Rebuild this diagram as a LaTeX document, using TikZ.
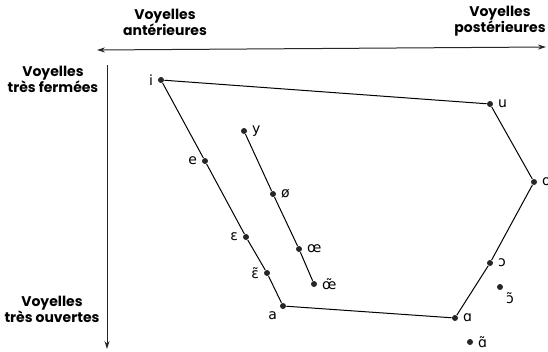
\documentclass[tikz,border=0pt]{standalone}
\usepackage{fontspec}
\setmainfont{DejaVu Sans}
\newfontfamily\headfont{Poppins}
\usetikzlibrary{arrows.meta, positioning}
\tikzset{
  every picture/.style={line width=1pt, x=1pt, y=-1pt},
  vowel/.style={circle, fill=black!85, inner sep=0pt, minimum size=6pt},
  ipa/.style={font=\fontsize{14}{14}\selectfont, inner sep=1pt, label distance=3pt},
  axis/.style={line width=1pt, draw=black!85},
  heading/.style={font=\headfont\bfseries\fontsize{14}{16}\selectfont, align=center},
}

\begin{document}
\begin{tikzpicture}
  \useasboundingbox (0,0) rectangle (548,351);
  % axes
  \coordinate (front) at (97,50);
  \coordinate (back) at (546,47);
  \coordinate (closed) at (107,65);
  \coordinate (open) at (107,349);
  \draw[axis, {Stealth[length=8pt, width=5pt]}-{Stealth[length=8pt, width=5pt]}] (front) -- (back);
  \draw[axis, -{Stealth[length=8pt, width=5pt]}] (closed) -- (open);
  \node[heading] (hfront) at (165,22) {Voyelles\\antérieures};
  \node[heading] (hback) at (500,21) {Voyelles\\postérieures};
  \node[heading] (hclosed) at (53,79) {Voyelles\\très fermées};
  \node[heading] (hopen) at (52,309) {Voyelles\\très ouvertes};
  % vowels
  \foreach \n/\x/\y/\p/\t in {i/161/80/left/i, u/490/104/right/u, o/534/182/right/o,
      oo/490/263/right/ɔ, ooN/500/287/below right/ɔ̃, A/455/318/right/ɑ, AN/470/342/right/ɑ̃,
      a/283/306/below left/a, eeN/267/273/left/ɛ̃, ee/246/237/left/ɛ, e/205/161/left/e,
      y/244/131/right/y, ph/273/194/right/ø, oe/299/249/right/œ, oeN/314/284/right/œ̃}
    \node[vowel, label={[ipa]\p:\t}] (\n) at (\x,\y) {};
  \draw (i) -- (u) -- (o) -- (oo) -- (A) -- (a) -- (eeN) -- (ee) -- (e) -- (i);
  \draw (y) -- (ph) -- (oe) -- (oeN);
\end{tikzpicture}
\end{document}
